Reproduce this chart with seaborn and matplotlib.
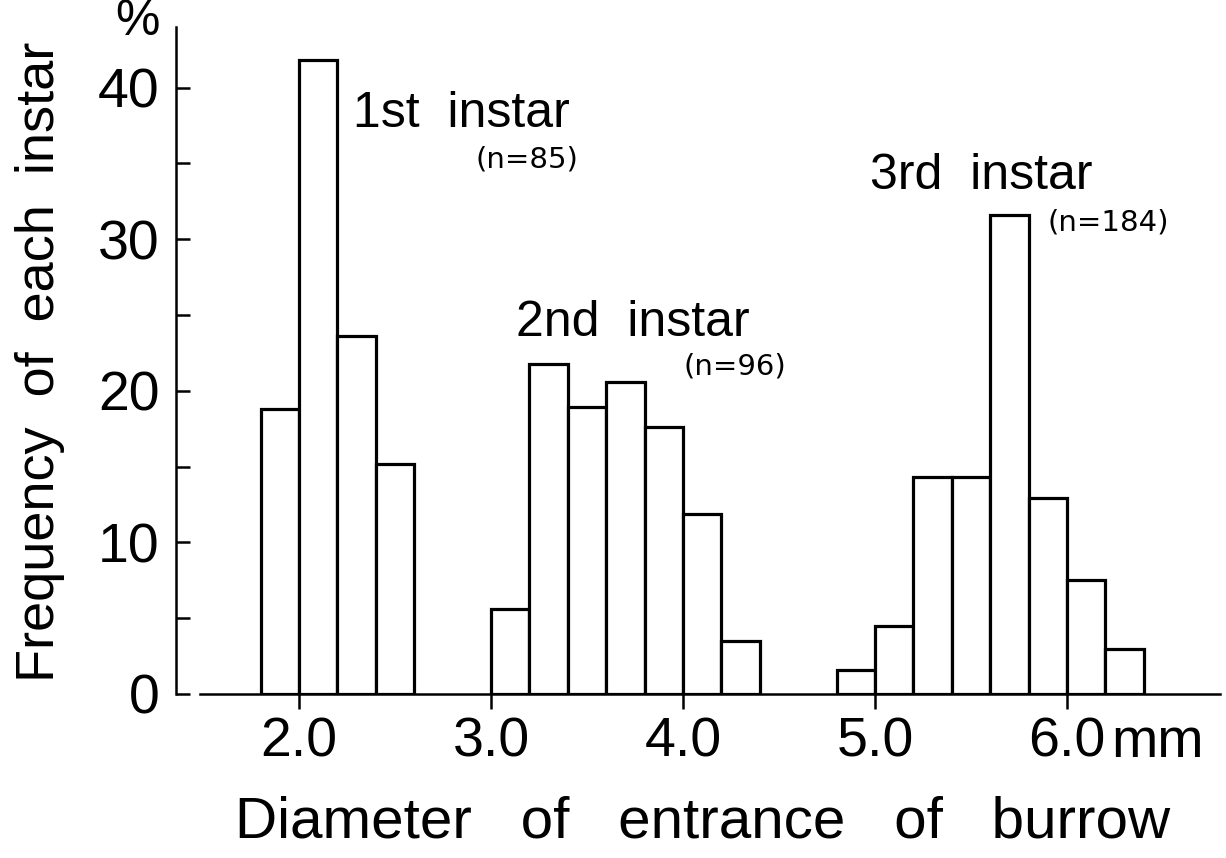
import matplotlib
matplotlib.use("Agg")
import matplotlib.pyplot as plt
import seaborn as sns
import numpy as np
import pandas as pd
from matplotlib.ticker import FixedLocator

# ---- data ----
bin_width = 0.2
instar1_left = [1.8, 2.0, 2.2, 2.4]
instar1_pct = [18.8, 41.8, 23.6, 15.2]
instar2_left = [3.0, 3.2, 3.4, 3.6, 3.8, 4.0, 4.2]
instar2_pct = [5.6, 21.8, 18.9, 20.6, 17.6, 11.9, 3.5]
instar3_left = [4.8, 5.0, 5.2, 5.4, 5.6, 5.8, 6.0, 6.2]
instar3_pct = [1.6, 4.5, 14.3, 14.3, 31.6, 12.9, 7.5, 3.0]
instar_labels = ["1st  instar", "2nd  instar", "3rd  instar"]
instar_n = ["(n=85)", "(n=96)", "(n=184)"]
x_ticks = [2.0, 3.0, 4.0, 5.0, 6.0]
x_ticklabels = ["2.0", "3.0", "4.0", "5.0", "6.0"]
y_ticks = [0, 10, 20, 30, 40]
y_minor = [5, 15, 25, 35]
x_label = "Diameter   of   entrance   of   burrow"
y_label = "Frequency  of  each  instar"

sns.set_theme(style="ticks")
plt.rcParams["font.family"] = ["Liberation Sans", "DejaVu Sans"]
plt.rcParams["text.color"] = "black"
plt.rcParams["axes.labelcolor"] = "black"
plt.rcParams["xtick.color"] = "black"
plt.rcParams["ytick.color"] = "black"

W, H = 1226, 858
spine_px = 176
right_px = 1220
base_px = 694
top_px = 27
fig = plt.figure(figsize=(W / 100, H / 100), dpi=100)
fig.patch.set_facecolor("white")
ax = fig.add_axes([spine_px / W, 1 - base_px / H, (right_px - spine_px) / W,
                   (base_px - top_px) / H])
ax.set_facecolor("white")

groups = [(instar1_left, instar1_pct), (instar2_left, instar2_pct), (instar3_left, instar3_pct)]
for left, pct in groups:
    centers = np.array(left) + bin_width / 2
    edges = list(left) + [left[-1] + bin_width]
    df = pd.DataFrame({"diam": centers, "pct": pct})
    sns.histplot(data=df, x="diam", weights="pct", bins=edges, ax=ax,
                 color="white", edgecolor="black", linewidth=2.3, alpha=1)

px_per_mm = 192.0
ax.set_xlim(2.0 + (spine_px - 299) / px_per_mm, 2.0 + (right_px - 299) / px_per_mm)
ax.set_ylim(0, 44)
ax.set_xlabel("")
ax.set_ylabel("")

for s in ["top", "right"]:
    ax.spines[s].set_visible(False)
for s in ["left", "bottom"]:
    ax.spines[s].set_linewidth(1.8)
    ax.spines[s].set_color("black")
ax.spines["bottom"].set_bounds(2.0 + (200 - 299) / px_per_mm, ax.get_xlim()[1])

ax.set_xticks(x_ticks)
ax.set_xticklabels(x_ticklabels)
ax.set_yticks(y_ticks)
ax.set_yticklabels([str(v) for v in y_ticks])
ax.yaxis.set_minor_locator(FixedLocator(y_minor))
ax.tick_params(axis="x", direction="out", length=11, width=1.8, pad=5,
               labelsize=40, colors="black")
ax.tick_params(axis="y", which="major", direction="in", length=10, width=1.8,
               pad=12, labelsize=40, colors="black")
ax.tick_params(axis="y", which="minor", direction="in", length=10, width=1.8)

# instar annotations
label_pos = [(2.281, 37.4), (3.13, 23.6), (4.974, 33.3)]
n_pos = [(2.917, 34.7), (4.0, 21.1), (5.896, 30.6)]
for (lx, ly), txt in zip(label_pos, instar_labels):
    ax.text(lx, ly, txt, fontsize=36, ha="left", va="baseline", color="black")
for (nx, ny), txt in zip(n_pos, instar_n):
    ax.text(nx, ny, txt, fontsize=21, ha="left", va="baseline", color="black",
            family=["DejaVu Sans"])

fig.text(1158 / W, 1 - 757 / H, "mm", fontsize=40, ha="center", va="baseline")
fig.text(137 / W, 1 - 22 / H, "%", fontsize=36, ha="center", va="center")
fig.text(703 / W, 1 - 837 / H, x_label, fontsize=42, ha="center", va="baseline")
fig.text(40 / W, 1 - 362 / H, y_label, fontsize=39, ha="center", va="center",
         rotation=90)

fig.savefig("out.png", dpi=100, facecolor="white")
